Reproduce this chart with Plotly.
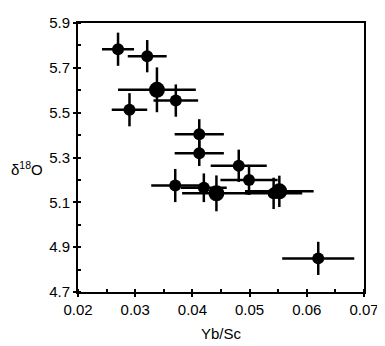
import plotly.graph_objects as go

yb_sc = [0.0270, 0.0321, 0.0338, 0.0371, 0.0290, 0.0412, 0.0412, 0.0481, 0.0499,
         0.0370, 0.0420, 0.0442, 0.0542, 0.0552, 0.0620]
d18o = [5.783, 5.752, 5.602, 5.554, 5.513, 5.404, 5.319, 5.263, 5.200,
        5.175, 5.165, 5.140, 5.140, 5.149, 4.850]
x_err = [0.0028, 0.0034, 0.0068, 0.0039, 0.0031, 0.0043, 0.0043, 0.0049, 0.0050,
         0.0042, 0.0040, 0.0060, 0.0050, 0.0060, 0.0063]
y_err = [0.074, 0.072, 0.100, 0.072, 0.074, 0.067, 0.057, 0.072, 0.067,
         0.074, 0.064, 0.080, 0.070, 0.070, 0.074]
big = [False, False, True, False, False, False, False, False, False,
       False, False, True, False, True, False]

x_ticks = [0.02, 0.03, 0.04, 0.05, 0.06, 0.07]
y_ticks = [4.7, 4.9, 5.1, 5.3, 5.5, 5.7, 5.9]

sizes = [16 if b else 12 for b in big]

fig = go.Figure()
fig.add_trace(go.Scatter(
    x=yb_sc, y=d18o, mode="markers",
    marker=dict(color="black", size=sizes, opacity=1, line=dict(width=0)),
    error_x=dict(type="data", array=x_err, visible=True, color="black", thickness=2.5, width=0),
    error_y=dict(type="data", array=y_err, visible=True, color="black", thickness=2.5, width=0),
    showlegend=False,
))

font = dict(family="Liberation Sans, Arial, sans-serif", size=15, color="black")

# page body adds an 8px offset, so the figure is 8px smaller on each of those sides
fig.update_layout(
    width=377, height=338,
    margin=dict(l=70, r=18, t=6, b=49),
    paper_bgcolor="white", plot_bgcolor="white",
    font=font,
    xaxis=dict(range=[0.02, 0.07], tickvals=x_ticks, ticktext=[f"{v:.2f}" for v in x_ticks],
               showgrid=False, zeroline=False, showline=True, linecolor="black", linewidth=2,
               mirror=True, ticks="outside", ticklen=3, tickwidth=1.5, tickcolor="black",
               ticklabeloverflow="allow",
               minor=dict(dtick=0.005, ticks="inside", ticklen=3, tickcolor="black"),
               title=dict(text="Yb/Sc", font=font, standoff=11)),
    yaxis=dict(range=[4.7, 5.9], tickvals=y_ticks, ticktext=[f"{v:.1f}" for v in y_ticks],
               showgrid=False, zeroline=False, showline=True, linecolor="black", linewidth=2,
               mirror=True, ticks="outside", ticklen=3, tickwidth=1.5, tickcolor="black",
               ticklabeloverflow="allow",
               minor=dict(dtick=0.1, ticks="inside", ticklen=3, tickcolor="black")),
    annotations=[dict(text="δ<sup>18</sup>O", xref="paper", yref="paper", x=-0.18, y=0.46,
                      showarrow=False, font=font, xanchor="center", yanchor="middle")],
)

fig.write_html("out.html")
